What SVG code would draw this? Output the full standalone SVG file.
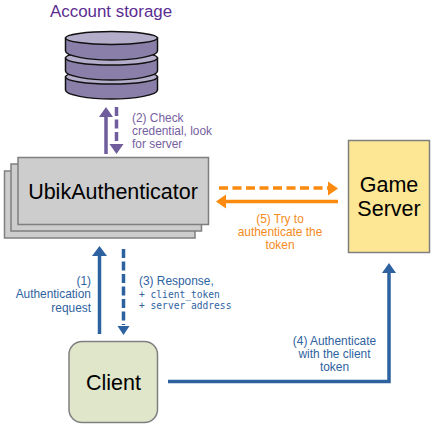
<svg xmlns="http://www.w3.org/2000/svg" width="433" height="424" viewBox="0 0 433 424">
<style>
text{font-family:"Liberation Sans",Arial,sans-serif}
.box{fill:#cdcdcd;stroke:#7f7f7f;stroke-width:1.5}
.disk{fill:#8a7fa8;stroke:#111;stroke-width:1.5}
.top{fill:#b5aecb;stroke:#111;stroke-width:1.5}
.pu{fill:#7560a0;font-size:11.9px}
.bl{fill:#2f62a0;font-size:11.9px}
.or{fill:#f58a20;font-size:11.9px}
.mono{font-family:"DejaVu Sans Mono","Liberation Mono",monospace;font-size:9.6px;fill:#2f62a0}
.big{font-size:21.5px;fill:#000;text-anchor:middle}
</style>
<rect width="433" height="424" fill="#fff"/>
<g id="storage-label"><text x="50" y="17" font-size="16.900" fill="#5b2d91">Account storage</text></g>
<g id="account-storage">
<path class="disk" d="M65.500 77V90C65.500 95 88 99 111.500 99S157.500 95 157.500 90V77Z"/>
<ellipse class="top" cx="111.500" cy="77" rx="46" ry="7"/>
<path class="disk" d="M65.500 58V71C65.500 76 88 80 111.500 80S157.500 76 157.500 71V58Z"/>
<ellipse class="top" cx="111.500" cy="58" rx="46" ry="7"/>
<path class="disk" d="M65.500 38V51C65.500 56 88 60 111.500 60S157.500 56 157.500 51V38Z"/>
<ellipse class="top" cx="111.500" cy="38" rx="46" ry="6.500"/>
</g>
<g id="ubik-authenticator">
<rect class="box" x="4.500" y="171" width="190.500" height="67"/>
<rect class="box" x="11" y="164" width="190.500" height="67"/>
<rect class="box" x="18" y="157.500" width="190.500" height="67"/>
<text x="113" y="199" class="big">UbikAuthenticator</text>
</g>
<g id="game-server">
<rect x="348.500" y="140.500" width="81" height="112" fill="#fde794" stroke="#7f7f7f" stroke-width="1.500"/>
<text x="389" y="192" class="big">Game</text>
<text x="389" y="216" class="big">Server</text>
</g>
<g id="client">
<rect x="69" y="341.500" width="88.500" height="81" rx="13" fill="#dfe6c9" stroke="#7f7f7f" stroke-width="1.500"/>
<text x="113.500" y="390" class="big">Client</text>
</g>
<g id="connectors" fill="none">
<path d="M106 154V114" stroke="#6f5d9c" stroke-width="3.500"/><path d="M106 107l7 10h-14z" fill="#6f5d9c"/>
<path d="M116.500 107V142" stroke="#6f5d9c" stroke-width="3.500" stroke-dasharray="9 3.500"/><path d="M116.500 154l-7-10h14z" fill="#6f5d9c"/>
<path d="M219 188H330" stroke="#fb8a0e" stroke-width="3.500" stroke-dasharray="9 4.500"/><path d="M338 188.500l-10-7v14z" fill="#fb8a0e"/>
<path d="M338 201.500H224" stroke="#fb8a0e" stroke-width="3.500"/><path d="M216 201.500l10-7v14z" fill="#fb8a0e"/>
<path d="M99.500 334V252" stroke="#2d619f" stroke-width="3.500"/><path d="M99.500 246l7.500 10h-15z" fill="#2d619f"/>
<path d="M123.500 249V325" stroke="#2d619f" stroke-width="3.500" stroke-dasharray="9 3.500"/><path d="M123.500 335l-6-9h12z" fill="#2d619f"/>
<path d="M168 381.500H389V268" stroke="#2d619f" stroke-width="3.500"/><path d="M389 263l7 10h-14z" fill="#2d619f"/>
</g>
<g id="labels">
<text class="pu" x="132" y="122">(2) Check</text>
<text class="pu" x="132" y="135">credential, look</text>
<text class="pu" x="132" y="148">for server</text>
<text class="or" text-anchor="middle" x="280" y="223">(5) Try to</text>
<text class="or" text-anchor="middle" x="280" y="236">authenticate the</text>
<text class="or" text-anchor="middle" x="280" y="249">token</text>
<text class="bl" text-anchor="end" x="91" y="285">(1)</text>
<text class="bl" text-anchor="end" x="91" y="298">Authentication</text>
<text class="bl" text-anchor="end" x="91" y="312">request</text>
<text class="bl" x="139" y="285">(3) Response,</text>
<text class="mono" x="139" y="298">+ client_token</text>
<text class="mono" x="139" y="309">+ server address</text>
<text class="bl" text-anchor="middle" x="334.500" y="345">(4) Authenticate</text>
<text class="bl" text-anchor="middle" x="334.500" y="358">with the client</text>
<text class="bl" text-anchor="middle" x="334.500" y="371">token</text>
</g>
</svg>
